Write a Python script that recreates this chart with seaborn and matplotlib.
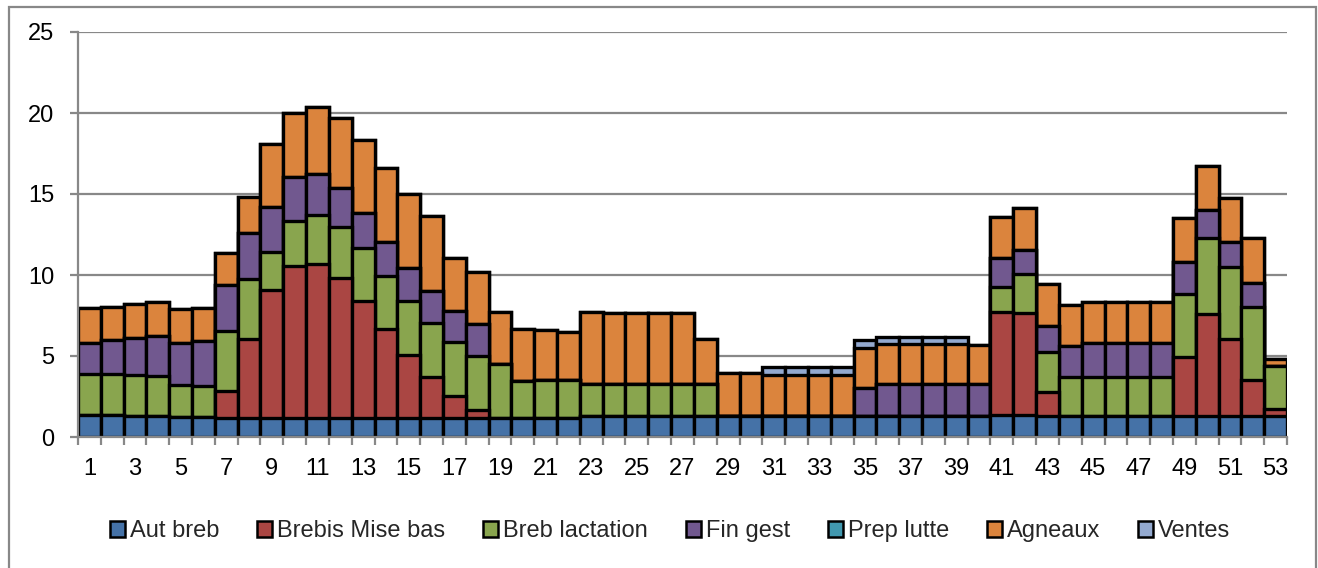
import numpy as np
import pandas as pd
import matplotlib
matplotlib.use("Agg")
import matplotlib.pyplot as plt
from matplotlib.patches import Patch, Rectangle
import seaborn as sns

weeks = list(range(1, 54))

aut_breb = [1.35, 1.35, 1.3, 1.28, 1.25, 1.22, 1.2, 1.15, 1.15, 1.15,
            1.15, 1.15, 1.15, 1.15, 1.15, 1.15, 1.15, 1.15, 1.15, 1.15,
            1.15, 1.15, 1.32, 1.32, 1.32, 1.32, 1.32, 1.32, 1.32, 1.32,
            1.32, 1.32, 1.32, 1.32, 1.32, 1.32, 1.32, 1.32, 1.32, 1.32,
            1.36, 1.36, 1.32, 1.32, 1.32, 1.32, 1.32, 1.32, 1.32, 1.32,
            1.32, 1.32, 1.28]
brebis_mise_bas = [0, 0, 0, 0, 0, 0, 1.64, 4.88, 7.92, 9.43,
                   9.51, 8.69, 7.27, 5.5, 3.91, 2.53, 1.38, 0.52, 0, 0,
                   0, 0, 0, 0, 0, 0, 0, 0, 0, 0,
                   0, 0, 0, 0, 0, 0, 0, 0, 0, 0,
                   6.34, 6.27, 1.48, 0, 0, 0, 0, 0, 3.64, 6.25,
                   4.73, 2.2, 0.47]
breb_lactation = [2.55, 2.55, 2.5, 2.5, 1.95, 1.94, 3.7, 3.72, 2.35, 2.77,
                  3.04, 3.14, 3.23, 3.31, 3.34, 3.38, 3.31, 3.35, 3.35, 2.33,
                  2.37, 2.37, 1.93, 1.93, 1.93, 1.93, 1.93, 1.93, 0, 0,
                  0, 0, 0, 0, 0, 0, 0, 0, 0, 0,
                  1.58, 2.43, 2.47, 2.41, 2.41, 2.41, 2.41, 2.41, 3.87, 4.69,
                  4.46, 4.52, 2.63]
fin_gest = [1.9, 2.1, 2.3, 2.45, 2.6, 2.79, 2.84, 2.85, 2.78, 2.68,
            2.53, 2.37, 2.2, 2.06, 2.01, 1.97, 1.94, 1.94, 0, 0,
            0, 0, 0, 0, 0, 0, 0, 0, 0, 0,
            0, 0, 0, 0, 1.68, 1.93, 1.93, 1.93, 1.93, 1.93,
            1.79, 1.48, 1.58, 1.89, 2.09, 2.09, 2.09, 2.09, 1.95, 1.75,
            1.51, 1.45, 0]
prep_lutte = [0] * 53
agneaux = [2.14, 2.05, 2.1, 2.12, 2.08, 1.99, 2.0, 2.23, 3.87, 3.95,
           4.16, 4.32, 4.48, 4.56, 4.57, 4.61, 3.29, 3.2, 3.24, 3.17,
           3.08, 2.98, 4.45, 4.38, 4.38, 4.38, 4.38, 2.78, 2.61, 2.61,
           2.51, 2.51, 2.51, 2.51, 2.51, 2.47, 2.47, 2.47, 2.47, 2.45,
           2.53, 2.62, 2.57, 2.53, 2.49, 2.49, 2.49, 2.49, 2.72, 2.72,
           2.75, 2.77, 0.42]
ventes = [0, 0, 0, 0, 0, 0, 0, 0, 0, 0,
          0, 0, 0, 0, 0, 0, 0, 0, 0, 0,
          0, 0, 0, 0, 0, 0, 0, 0, 0, 0,
          0.49, 0.49, 0.49, 0.49, 0.48, 0.47, 0.47, 0.47, 0.47, 0,
          0, 0, 0, 0, 0, 0, 0, 0, 0, 0,
          0, 0, 0]

series_names = ["Aut breb", "Brebis Mise bas", "Breb lactation", "Fin gest",
                "Prep lutte", "Agneaux", "Ventes"]
series_values = [aut_breb, brebis_mise_bas, breb_lactation, fin_gest,
                 prep_lutte, agneaux, ventes]
colors = ["#4572A7", "#AA4643", "#89A54E", "#71588F", "#4198AF", "#DB843D", "#93A9CF"]

sns.set_theme(style="white")
plt.rcParams["font.family"] = ["Liberation Sans", "DejaVu Sans"]

fig = plt.figure(figsize=(13.18, 5.68), dpi=100)
ax = fig.add_axes([78 / 1318, 1 - 437 / 568, (1287 - 78) / 1318, (437 - 32) / 568])

df = pd.DataFrame({"week": weeks})
cum = np.zeros(len(weeks))
cums = []
for vals in series_values:
    cum = cum + np.array(vals, dtype=float)
    cums.append(cum.copy())

# draw tallest cumulative first, then overlay lower levels
for name, c, col in reversed(list(zip(series_names, cums, colors))):
    d = df.copy()
    d["value"] = c
    sns.barplot(data=d, x="week", y="value", color=col, width=1.0,
                saturation=1, errorbar=None, edgecolor="black",
                linewidth=2.4, ax=ax, zorder=3)

ax.set_xlim(-0.5, 52.5)
ax.set_ylim(0, 25)
ax.set_yticks([0, 5, 10, 15, 20, 25])
ax.yaxis.grid(True, color="#888888", linewidth=1.6)
ax.set_axisbelow(True)

ax.set_xticks(range(0, 53, 2))
ax.set_xticklabels([str(w) for w in weeks[::2]])
ax.set_xticks(np.arange(-0.5, 53, 1), minor=True)
ax.tick_params(axis="x", which="major", length=0, pad=15, labelsize=17, colors="black")
ax.tick_params(axis="x", which="minor", length=6, width=1.6, color="#888888", direction="out", bottom=True)
ax.tick_params(axis="y", which="major", length=6, width=1.6, color="#888888", direction="out",
               left=True, pad=11, labelsize=17, labelcolor="black")
ax.set_xlabel("")
ax.set_ylabel("")

for s in ["top", "right"]:
    ax.spines[s].set_visible(False)
for s in ["left", "bottom"]:
    ax.spines[s].set_color("#888888")
    ax.spines[s].set_linewidth(1.6)
    ax.spines[s].set_zorder(4)

handles = [Patch(facecolor=col, edgecolor="black", linewidth=1.8) for col in colors]
fig.legend(handles, series_names, loc="center", bbox_to_anchor=(670 / 1318, 1 - 531 / 568),
           ncol=7, frameon=False, fontsize=17, handlelength=0.65, handleheight=0.65,
           handletextpad=0.2, columnspacing=1.6)

fig.patches.append(Rectangle((9 / 1318, -0.02), (1316 - 9) / 1318, 1 - 7 / 568 + 0.02,
                             transform=fig.transFigure, fill=False,
                             edgecolor="#888888", linewidth=1.6))

fig.savefig("out.png", dpi=100)
